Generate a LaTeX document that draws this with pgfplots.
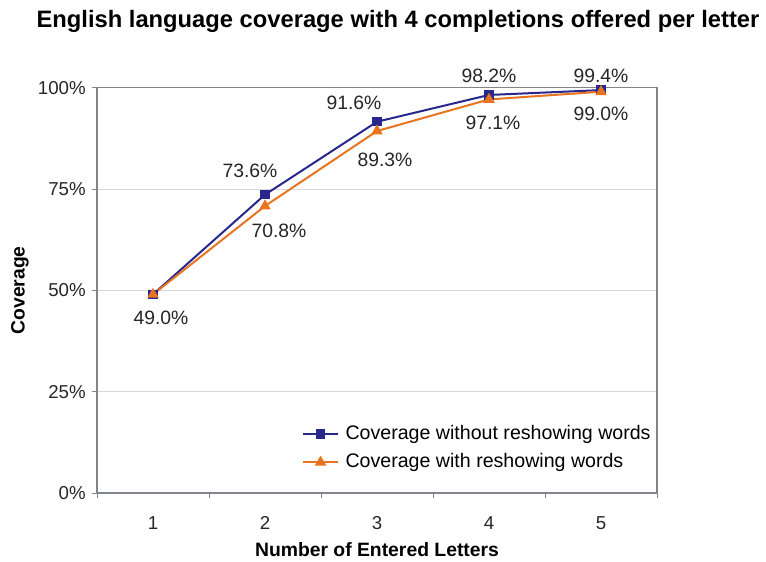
\documentclass[border=0pt]{standalone}
\usepackage{pgfplots}
\pgfplotsset{compat=1.18}
\usepackage{fontspec}
\setmainfont{Liberation Sans}
\definecolor{cblue}{RGB}{40,40,140}
\definecolor{corange}{RGB}{232,116,32}
\definecolor{cframe}{RGB}{128,134,140}
\definecolor{cgrid}{RGB}{215,215,215}
\begin{document}
\begin{tikzpicture}[x=1pt,y=1pt]
\path[use as bounding box] (-72.75,-51) rectangle (501.75,369.75);
\begin{axis}[
  at={(0,0)}, anchor=south west,
  scale only axis, width=420pt, height=304pt,
  xmin=0.5, xmax=5.5, ymin=0, ymax=100,
  xtick={1,2,3,4,5},
  minor xtick={0.5,1.5,2.5,3.5,4.5,5.5},
  major x tick style={draw=none},
  minor x tick style={draw=cframe, line width=0.6pt},
  ytick={0,25,50,75,100},
  yticklabel={\pgfmathprintnumber{\tick}\%},
  ymajorgrids, grid style={cgrid, line width=0.6pt},
  major y tick style={draw=cframe, line width=0.6pt},
  tick align=outside, tick pos=left,
  major tick length=4pt, minor tick length=4pt,
  axis line style={cframe, line width=1.2pt},
  /pgf/number format/assume math mode=true,
  tick label style={font=\fontsize{14}{16}\selectfont, text=black!85},
  xticklabel style={yshift=-10pt},
  yticklabel style={xshift=-1pt},
  xlabel={\textbf{Number of Entered Letters}},
  ylabel={\textbf{Coverage}},
  label style={font=\fontsize{14.5}{17}\selectfont},
  xlabel style={at={(rel axis cs:0.5,0)}, anchor=center, yshift=-42.5pt},
  ylabel style={at={(rel axis cs:0,0.5)}, anchor=center, yshift=57.75pt},
  legend style={at={(rel axis cs:0.366,0.172)}, anchor=north west, draw=none, fill=none,
    font=\fontsize{14.7}{17}\selectfont, row sep=5pt, inner sep=0pt,
    nodes={inner sep=1pt, text height=11pt, text depth=3pt}},
  legend cell align=left,
  legend image code/.code={
    \draw[#1, mark repeat=2, mark phase=2] plot coordinates {(0pt,0pt) (13pt,0pt) (26pt,0pt)};
    \path (30pt,0pt);},
  clip=false,
]
\addplot[cblue, line width=1.5pt, mark=square*, mark size=2.8pt, mark options={solid}]
  coordinates {(1,49.0) (2,73.6) (3,91.6) (4,98.2) (5,99.4)};
\addlegendentry{Coverage without reshowing words}
\addplot[corange, line width=1.5pt, mark=triangle*, mark size=3.5pt, mark options={solid}]
  coordinates {(1,49.0) (2,70.8) (3,89.3) (4,97.1) (5,99.0)};
\addlegendentry{Coverage with reshowing words}
\begin{scope}[every node/.style={font=\fontsize{14.5}{17}\selectfont, text=black!85, inner sep=0pt}]
\node[xshift=-11.25pt, yshift=18pt] at (axis cs:2,73.6) {73.6\%};
\node[xshift=-17.25pt, yshift=13.8pt] at (axis cs:3,91.6) {91.6\%};
\node[yshift=14.5pt] at (axis cs:4,98.2) {98.2\%};
\node[yshift=10.8pt] at (axis cs:5,99.4) {99.4\%};
\node[xshift=6pt, yshift=-17.25pt] at (axis cs:1,49.0) {49.0\%};
\node[xshift=10.5pt, yshift=-18.3pt] at (axis cs:2,70.8) {70.8\%};
\node[xshift=6pt, yshift=-21.5pt] at (axis cs:3,89.3) {89.3\%};
\node[xshift=3pt, yshift=-17.2pt] at (axis cs:4,97.1) {97.1\%};
\node[yshift=-16.5pt] at (axis cs:5,99.0) {99.0\%};
\end{scope}
\node[font=\bfseries\fontsize{17.8}{20}\selectfont, anchor=center] at ([xshift=15.75pt, yshift=50pt]rel axis cs:0.5,1) {English language coverage with 4 completions offered per letter};
\end{axis}
\end{tikzpicture}
\end{document}
